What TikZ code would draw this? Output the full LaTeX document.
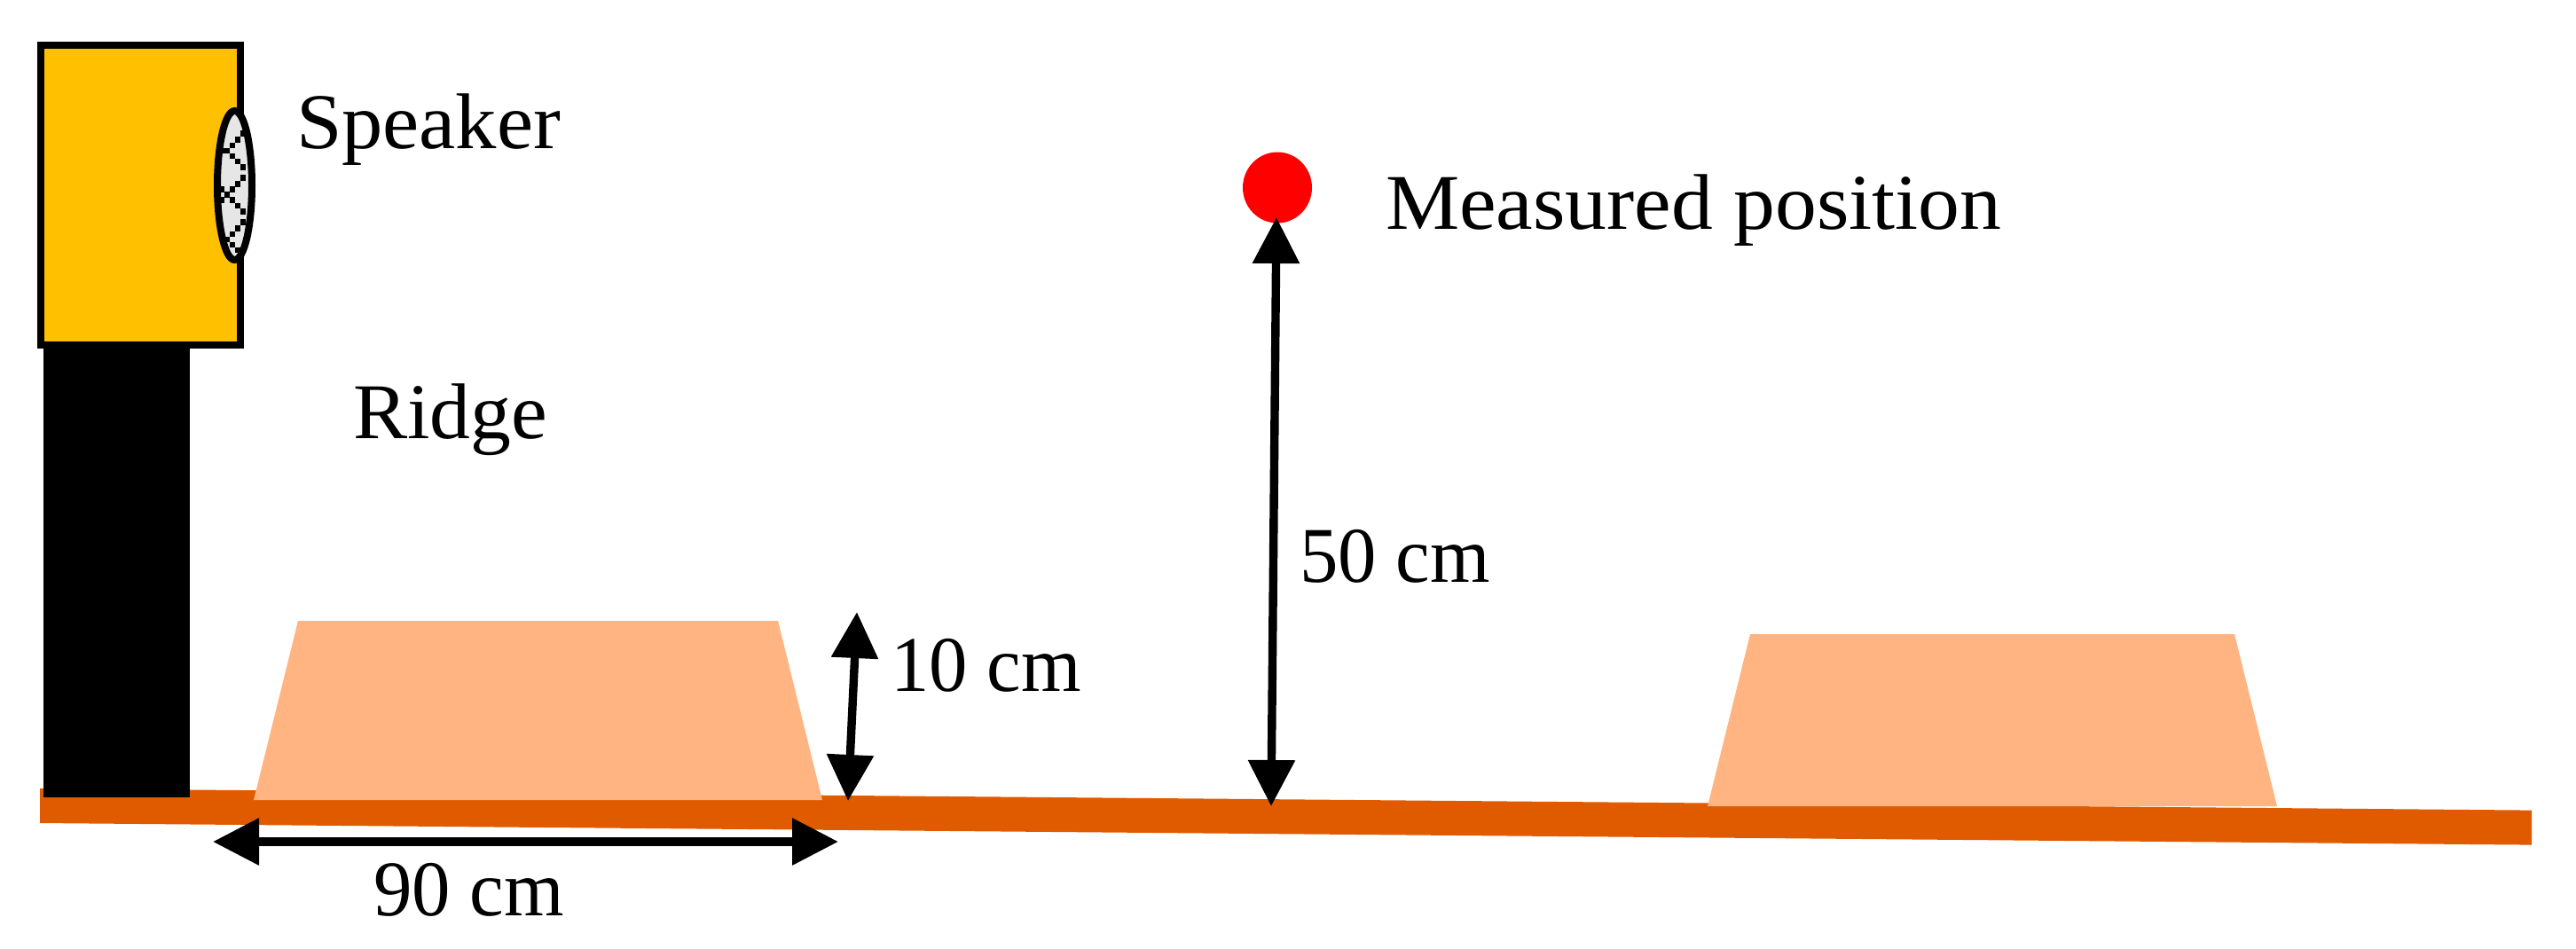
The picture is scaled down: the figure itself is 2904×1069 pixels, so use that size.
\documentclass[tikz,border=0pt]{standalone}
\usepackage{fontspec}
\usepackage{graphicx}
\setmainfont{Liberation Serif}
\usetikzlibrary{arrows.meta,shapes.geometric}
\definecolor{boxcol}{HTML}{FFC000}
\definecolor{groundcol}{HTML}{E05A00}
\definecolor{ridgecol}{HTML}{FFB482}
\definecolor{conecol}{HTML}{E6E6E6}
\tikzset{
  lbl/.style={anchor=base west,inner sep=0pt,outer sep=0pt,font=\fontsize{89}{100}\selectfont,text=black},
  dim/.style={line width=9.4pt,draw=black,{Triangle[length=52pt,width=51pt]}-{Triangle[length=52pt,width=51pt]}},
  ridge/.style={fill=ridgecol,draw=none},
}
\begin{document}
\begin{tikzpicture}[x=1pt,y=-1pt]
\useasboundingbox (0,0) rectangle (2904,1069);
% ground
\fill[groundcol] (45,889) -- (2854,913.6) -- (2854,952.6) -- (45,928) -- cycle;
% stand
\fill[black] (49,390) rectangle (214,899);
% ridges
\fill[ridge] (336,700) -- (877,700) -- (927,902) -- (286,902) -- cycle;
\fill[ridge] (1973,715) -- (2519,715) -- (2567,909) -- (1925,909) -- cycle;
% speaker
\draw[fill=boxcol,draw=black,line width=7.5pt] (46,51) rectangle (271,389);
\begin{scope}
  \clip (264.5,209) circle [x radius=19.5,y radius=84];
  \fill[conecol] (240,120) rectangle (290,300);
  \foreach \a/\b in {162/122,144/142,126/162,108/180,90/180,126/198,144/216,162/236,162/272,144/292,126/310,108/328,90/310,90/346,126/346,144/366,162/386,162/422,144/442,126/462,108/480,126/498,144/516}
    \fill[black] ({220+\a/3-3.25},{110+\b/3-3.25}) rectangle ++(6.5,6.5);
\end{scope}
\draw[black,line width=8pt] (264.5,209) circle [x radius=19.5,y radius=84];
% measured point
\node[ellipse,fill=red,draw=none,minimum width=78pt,minimum height=80pt,inner sep=0pt] (dot) at (1440,211.5) {};
% connector ends
\coordinate (mTop) at (1439,245);
\coordinate (mBot) at (1433,909);
\coordinate (hTop) at (966,690);
\coordinate (hBot) at (956,903);
\coordinate (wL) at (240,949);
\coordinate (wR) at (945,949);
\draw[dim] (mTop) -- (mBot);
\draw[dim] (hTop) -- (hBot);
\draw[dim] (wL) -- (wR);
% labels
\node[lbl] (speakerlbl) at (334,167) {\scalebox{1.04}[1]{Speaker}};
\node[lbl] (ridgelbl) at (398,494) {\scalebox{1.03}[1]{Ridge}};
\node[lbl] (measlbl) at (1562,258) {\scalebox{1.052}[1]{Measured position}};
\node[lbl] (fifty) at (1465,656) {\scalebox{0.975}[1]{50 cm}};
\node[lbl] (ten) at (1004,779) {\scalebox{0.975}[1]{10 cm}};
\node[lbl] (ninety) at (421,1032) {\scalebox{0.975}[1]{90 cm}};
\end{tikzpicture}
\end{document}
